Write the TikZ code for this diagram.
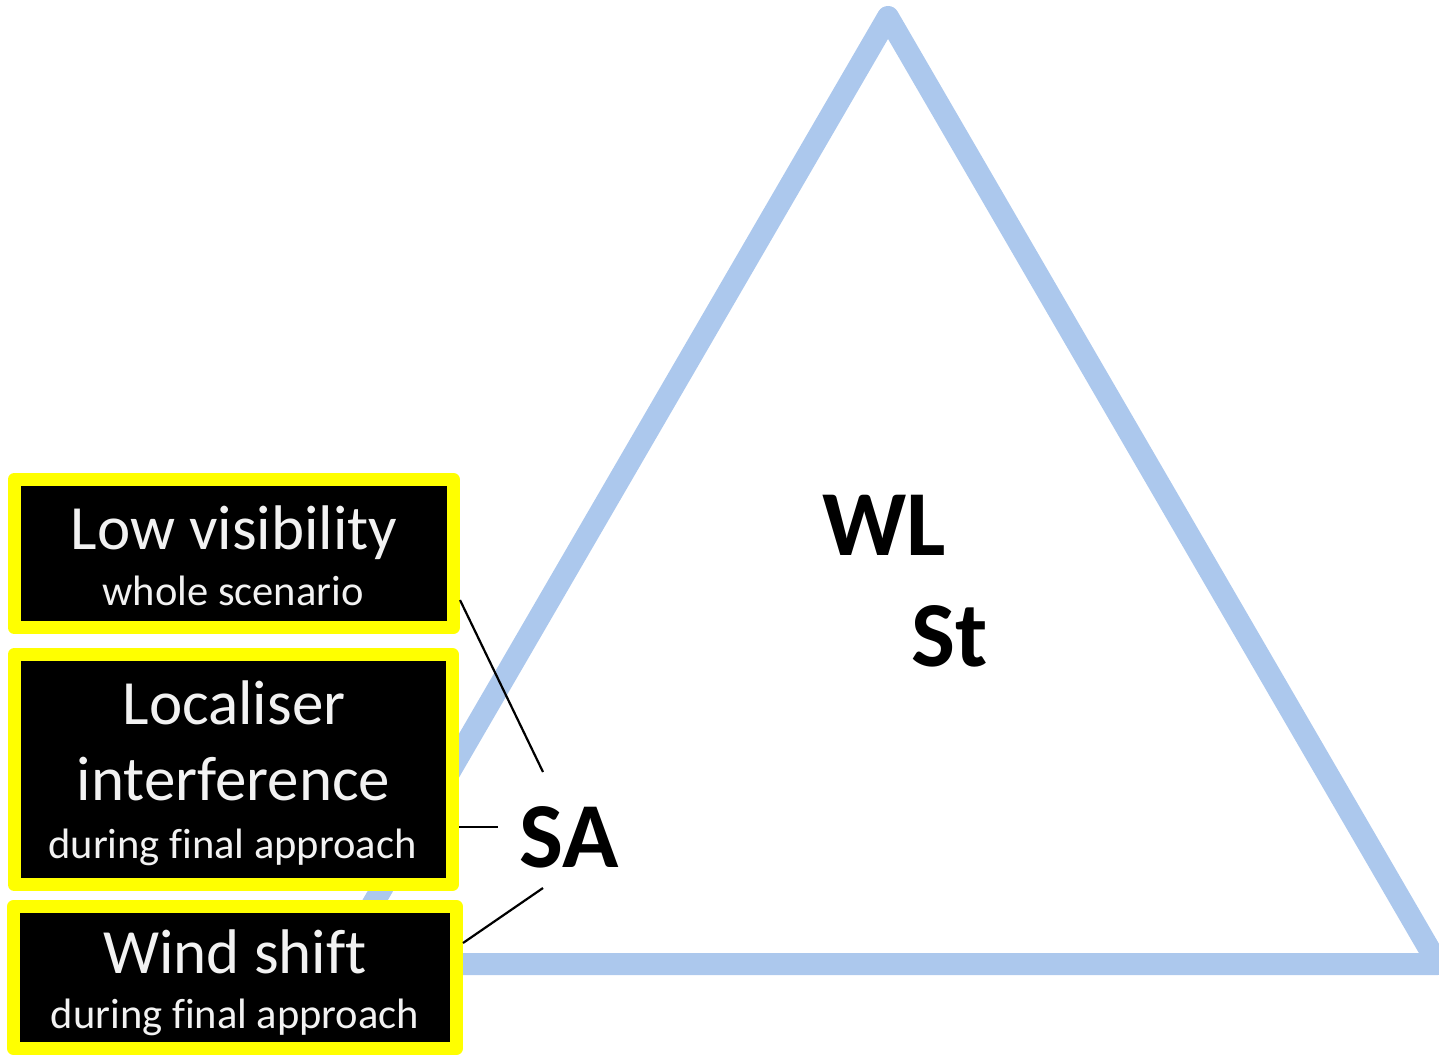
\documentclass[tikz,border=0pt]{standalone}
\usepackage{fontspec}
\setmainfont{Carlito}[Ligatures=NoCommon]
\definecolor{triblue}{RGB}{172,200,237}
\definecolor{boxyellow}{RGB}{255,255,0}
\definecolor{boxtext}{RGB}{242,242,242}
\begin{document}
\begin{tikzpicture}[x=1pt,y=-1pt,
  frame/.style={draw=boxyellow, fill=black, line width=13pt, line join=round,
    rectangle, inner sep=0pt},
  bigline/.style={text=boxtext, font=\fontsize{63}{63}\selectfont, anchor=base, inner sep=0pt},
  smallline/.style={text=boxtext, font=\fontsize{42.5}{42.5}\selectfont, anchor=base, inner sep=0pt},
  factor/.style={font=\bfseries\fontsize{93}{93}\selectfont, anchor=base, inner sep=0pt},
  link/.style={draw=black, line width=2.2pt}]

\useasboundingbox (0,0) rectangle (1439,1057);

% the triangle behind everything
\draw[triblue, line width=22pt, line join=round]
  (888,17) -- (1438,964) -- (338,964) -- cycle;

% factors inside the triangle
\node[factor] (wl) at (884.5,555) {WL};
\node[factor] (st) at (950,666) {St};
\node[factor] (sa) at (569,867) {SA};

% scenario boxes
\node[frame, minimum width=439.5pt, minimum height=148pt] (lowvis) at (233.75,553.5) {};
\node[frame, minimum width=438.5pt, minimum height=230pt] (loc) at (233.25,769.5) {};
\node[frame, minimum width=443pt, minimum height=142pt] (wind) at (235,977.5) {};

\node[bigline] (lowvisA) at (234,549) {Low visibility};
\node[smallline] (lowvisB) at (233,605) {whole scenario};

\node[bigline] (locA) at (234,724) {Localiser};
\node[bigline] (locB) at (233.5,800) {interference};
\node[smallline] (locC) at (232.5,858) {during final approach};

\node[bigline] (windA) at (235,973) {Wind shift};
\node[smallline] (windB) at (235,1028) {during final approach};

% connectors towards SA
\coordinate (saTop) at (543,772);
\coordinate (saLeft) at (498,827);
\coordinate (saBottom) at (543,888);
\draw[link] ([yshift=-46.5pt]lowvis.east) -- (saTop);
\draw[link] ([yshift=-57.5pt]loc.east) -- (saLeft);
\draw[link] ([yshift=34.5pt]wind.east) -- (saBottom);
\end{tikzpicture}
\end{document}
